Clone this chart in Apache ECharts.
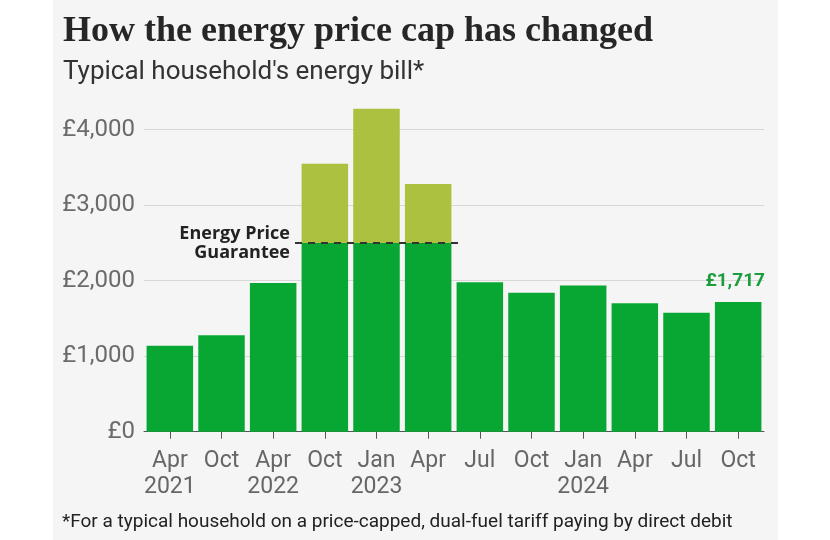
<!DOCTYPE html>
<html>
<head>
<meta charset="utf-8">
<script src="https://cdn.jsdelivr.net/npm/echarts@6/dist/echarts.min.js"></script>
<style>
html,body{margin:0;padding:0;background:#fff;}
#chart{width:830px;height:540px;}
</style>
</head>
<body>
<div id="chart"></div>
<script>
// ---- data ----
var months = ['Apr','Oct','Apr','Oct','Jan','Apr','Jul','Oct','Jan','Apr','Jul','Oct'];
var years  = ['2021','','2022','','2023','','','','2024','','',''];
var bills  = [1138, 1277, 1971, 3549, 4279, 3280, 1980, 1841, 1935, 1700, 1577, 1717];
var guaranteeMonths = [3, 4, 5];          // indices covered by the Energy Price Guarantee
var guaranteeLevel = 2500;
var yTicks = [0, 1000, 2000, 3000, 4000];
var lastLabel = '£1,717';

var categories = months.map(function(m, i){ return years[i] ? m + '\n' + years[i] : m; });
var paid = bills.map(function(v, i){ return guaranteeMonths.indexOf(i) >= 0 ? Math.min(v, guaranteeLevel) : v; });
var excess = bills.map(function(v, i){ return guaranteeMonths.indexOf(i) >= 0 ? Math.max(v - guaranteeLevel, 0) : 0; });

var GREEN = '#08a733';
var LIGHT = '#abc13f';
var SANS = 'Roboto, "Noto Sans", sans-serif';

var chart = echarts.init(document.getElementById('chart'), null, {renderer: 'canvas'});
chart.setOption({
  animation: false,
  backgroundColor: '#ffffff',
  graphic: [
    {type: 'rect', left: 53, top: 0, shape: {width: 725, height: 540}, style: {fill: '#f5f5f5'}, z: -10},
    {type: 'text', left: 63, top: 14, style: {text: 'How the energy price cap has changed', font: 'bold 36px "Liberation Serif", "DejaVu Serif", serif', fill: '#262626'}},
    {type: 'text', left: 63, top: 59, style: {text: "Typical household's energy bill*", font: '26px ' + SANS, fill: '#333'}},
    {type: 'text', left: 62, top: 513, style: {text: '*For a typical household on a price-capped, dual-fuel tariff paying by direct debit', font: '19px ' + SANS, fill: '#222'}}
  ],
  grid: {left: 144, right: 66, top: 99.5, bottom: 108.3, containLabel: false},
  xAxis: {
    type: 'category',
    data: categories,
    axisLine: {show: true, lineStyle: {color: '#555', width: 1}},
    axisTick: {show: true, alignWithLabel: true, length: 7, lineStyle: {color: '#555'}},
    axisLabel: {color: '#666', fontSize: 23, fontFamily: SANS, lineHeight: 26, margin: 17, interval: 0}
  },
  yAxis: {
    type: 'value',
    min: 0, max: 4400, interval: 1000,
    axisLine: {show: false},
    axisTick: {show: false},
    splitLine: {show: true, showMaxLine: false, lineStyle: {color: '#d8d8d8', width: 1}},
    axisLabel: {
      color: '#6b6b6b', fontSize: 24, fontFamily: SANS, margin: 9, showMaxLabel: false,
      formatter: function(v){ return yTicks.indexOf(v) >= 0 ? '£' + v.toLocaleString('en-GB') : ''; }
    }
  },
  series: [
    {
      type: 'bar', stack: 'b', data: paid.map(function(v, i){
        if (i === paid.length - 1) {
          return {value: v, label: {show: true, position: 'top', distance: 11, formatter: lastLabel,
            color: '#1a9e3c', fontSize: 19, fontWeight: 'bold', fontFamily: SANS, offset: [-3, 0]}};
        }
        return v;
      }),
      barCategoryGap: '10%',
      itemStyle: {color: GREEN},
      z: 2
    },
    {
      type: 'bar', stack: 'b', data: excess,
      barCategoryGap: '10%',
      itemStyle: {color: LIGHT},
      z: 2
    },
    {
      type: 'custom',
      data: [[guaranteeMonths[0], guaranteeMonths[guaranteeMonths.length - 1], guaranteeLevel]],
      z: 5,
      renderItem: function(params, api){
        var p0 = api.coord([api.value(0), api.value(2)]);
        var p1 = api.coord([api.value(1), api.value(2)]);
        var band = api.size([1, 0])[0];
        var x0 = p0[0] - band / 2 - 4;
        var x1 = p1[0] + band / 2 + 4;
        var y = p0[1];
        return {
          type: 'group',
          children: [
            {type: 'line', shape: {x1: x0, y1: y, x2: x1, y2: y},
             style: {stroke: '#333', lineWidth: 2, lineDash: [7, 6]}},
            {type: 'text', style: {text: 'Energy Price', x: x0 - 5, y: y - 9, align: 'right', verticalAlign: 'middle',
              font: 'bold 18px "Open Sans", ' + SANS, fill: '#222'}},
            {type: 'text', style: {text: 'Guarantee', x: x0 - 5, y: y + 10, align: 'right', verticalAlign: 'middle',
              font: 'bold 18px "Open Sans", ' + SANS, fill: '#222'}}
          ]
        };
      }
    }
  ]
});
</script>
</body>
</html>
